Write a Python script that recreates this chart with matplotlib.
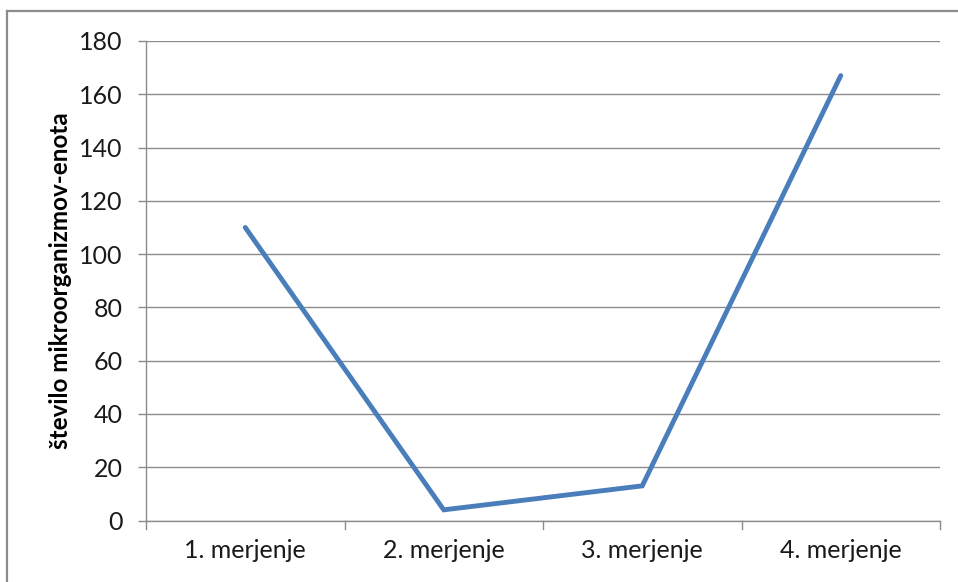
import matplotlib
matplotlib.use("Agg")
import matplotlib.pyplot as plt
from matplotlib.lines import Line2D
from matplotlib.transforms import blended_transform_factory

categories = ["1. merjenje", "2. merjenje", "3. merjenje", "4. merjenje"]
values = [110, 4, 13, 167]
y_ticks = [0, 20, 40, 60, 80, 100, 120, 140, 160, 180]
y_label = "število mikroorganizmov-enota"

plt.rcParams["font.family"] = ["Lato", "DejaVu Sans"]

W, H = 958, 582
fig = plt.figure(figsize=(W / 100, H / 100), dpi=100)
fig.patch.set_facecolor("white")

# outer chart frame (top and left edges visible)
frame_col = "#8c8c8c"
fig.add_artist(Line2D([7 / W, 1.0], [1 - 11 / H, 1 - 11 / H], color=frame_col, lw=1.6))
fig.add_artist(Line2D([7 / W, 7 / W], [0.0, 1 - 11 / H], color=frame_col, lw=1.6))

left, right = 146 / W, 940 / W
bottom, top = 1 - 520.5 / H, 1 - 41 / H
ax = fig.add_axes([left, bottom, right - left, top - bottom])

x = list(range(len(categories)))
ax.plot(x, values, color="#4a7ebb", lw=3.5, solid_capstyle="round", solid_joinstyle="miter", zorder=3)

ax.set_xlim(-0.5, len(categories) - 0.5)
ax.set_ylim(0, 180)
ax.set_yticks(y_ticks)
ax.set_yticklabels([str(v) for v in y_ticks], fontsize=18, color="#1a1a1a")
ax.set_xticks(x)
ax.set_xticklabels(categories, fontsize=18, color="#1a1a1a")

grid_col = "#8c8c8c"
ax.grid(axis="y", color=grid_col, lw=1.0)
ax.set_axisbelow(True)
for s in ["top", "right"]:
    ax.spines[s].set_visible(False)
for s in ["left", "bottom"]:
    ax.spines[s].set_color(grid_col)
    ax.spines[s].set_linewidth(1.0)

# y ticks outside; x category labels without tick marks
ax.tick_params(axis="y", direction="out", length=6, width=1.0, color=grid_col, pad=11)
ax.tick_params(axis="x", length=0, pad=13)

# short boundary tick marks between categories below the x axis
trans = blended_transform_factory(ax.transData, ax.transAxes)
for b in [i - 0.5 for i in range(len(categories) + 1)]:
    ax.add_line(Line2D([b, b], [0, -8 / (H * (top - bottom))], transform=trans,
                       color=grid_col, lw=1.0, clip_on=False))

ax.set_ylabel(y_label, fontsize=17.5, fontweight="bold", color="#000000", labelpad=5)

fig.savefig("out.png", dpi=100, facecolor="white")
